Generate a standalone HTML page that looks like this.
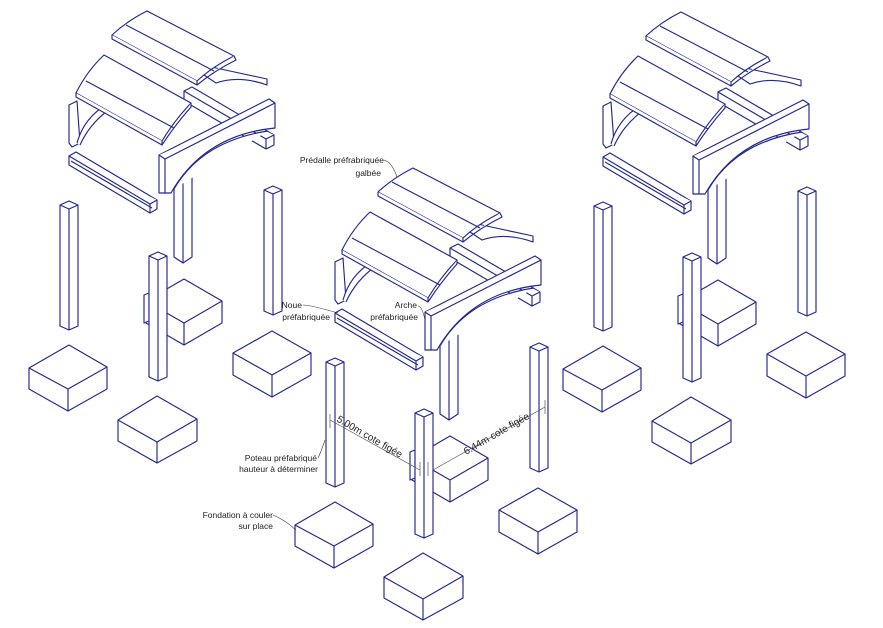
<!DOCTYPE html>
<html><head><meta charset="utf-8"><style>
html,body{margin:0;padding:0;background:#fff;width:883px;height:628px;overflow:hidden}
svg{display:block}
text{font-family:"Liberation Sans",sans-serif;font-size:8.5px;fill:#222}
</style></head><body>
<svg width="883" height="628" viewBox="0 0 883 628" xmlns="http://www.w3.org/2000/svg">
<defs>
<g id="asm" fill="#fff" stroke="#23278f" stroke-width="1.15" stroke-linejoin="round">
  <path d="M412,458 L450,436 L488,458 L488,480 L450,502 L412,480 Z"/>
  <path d="M412,458 L450,480 L488,458 M450,480 L450,502"/>
  <path d="M440,330 L458,330 L458,414 L449,420 L440,414 Z"/>
  <path d="M449,330 L449,420"/>
  <path d="M335,262 L343,258 L346,300 L338,304 L335,300 Z"/>
  <path d="M343,300 Q350,275 372,262 L376,266 Q356,280 346,302"/>
  <path d="M470,222 L482,225 L533,236 L533,242 Q505,232 482,240 L470,232 Z"/>
  <path d="M450,248 L458,244 L540,292 L540,302 L532,306 L450,258 Z"/>
  <path d="M450,248 L532,296 L540,292 M532,296 L532,306"/>
  <path d="M342,250 Q353,228 370,212 L457,260 Q440,278 428,298 Z"/>
  <path d="M342,250 L342,254 L428,302 L428,298 M428,302 Q441,282 457,264 L457,260"/>
  <path d="M352,238 L440,285"/>
  <path d="M378,192 Q393,178 413,168 L500,213 Q478,224 463,238 Z"/>
  <path d="M378,192 L378,196 L463,242 L463,238 M463,242 Q480,228 502,217 L500,213"/>
  <path d="M392,182 L480,228"/>
  <path d="M425,312 L535,256 L541,260 L541,285 Q470,292 437,350 L425,350 Z"/>
  <path d="M425,312 L431,316 L541,260 M431,316 L431,350"/>
  <path d="M534,288 Q468,298 440,346"/>
  <path d="M335,313 L342,309 L423,357 L423,366 L416,370 L335,322 Z"/>
  <path d="M335,313 L416,361 L423,357 M416,361 L416,370 M337,318 L418,365"/>
  <path d="M530,347 L539,343 L548,347 L548,468 L539,472 L530,468 Z"/>
  <path d="M530,347 L539,351 L548,347 M539,351 L539,472"/>
  <path d="M326,362 L335,358 L344,362 L344,483 L335,487 L326,483 Z"/>
  <path d="M326,362 L335,366 L344,362 M335,366 L335,487"/>
  <path d="M499,510 L538,488 L577,510 L577,532 L538,554 L499,532 Z"/>
  <path d="M499,510 L538,532 L577,510 M538,532 L538,554"/>
  <path d="M295,525 L335,502 L373,524 L373,546 L334,568 L295,546 Z"/>
  <path d="M295,525 L334,546 L373,524 M334,546 L334,568"/>
  <path d="M410,452 L415,450 L415,478 L410,480 Z"/>
  <path d="M415,413 L424,409 L433,413 L433,534 L424,538 L415,534 Z"/>
  <path d="M415,413 L424,417 L433,413 M424,417 L424,538"/>
  <path d="M384,577 L423,553 L463,576 L463,598 L423,620 L384,598 Z"/>
  <path d="M384,577 L423,599 L463,576 M423,599 L423,620"/>
</g>
</defs>
<use href="#asm" transform="translate(-266,-157)"/>
<use href="#asm" transform="translate(268,-156)"/>
<use href="#asm"/>
<g stroke="#555" stroke-width="0.7" fill="none">
  <path d="M330,420 L420,470 M433,470 L545,407"/>
  <path d="M330,414 L330,428 M420,462 L420,476 M428,462 L428,476 M545,400 L545,414"/>
</g>
<g stroke="#333" stroke-width="0.6" fill="none">
  <path d="M384,160 Q392,162 397,177"/>
  <path d="M303,305 Q310,305 338,313"/>
  <path d="M418,306 Q422,306 425,320"/>
  <path d="M318,458 Q321,452 325,440"/>
  <path d="M273,515 Q285,520 296,530"/>
</g>
<text x="384" y="163" text-anchor="end">Prédalle préfrabriquée</text>
<text x="381" y="176" text-anchor="end">galbée</text>
<text x="302" y="308" text-anchor="end">Noue</text>
<text x="330" y="320" text-anchor="end">préfabriquée</text>
<text x="417" y="308" text-anchor="end">Arche</text>
<text x="418" y="320" text-anchor="end">préfabriquée</text>
<text x="317" y="461" text-anchor="end">Poteau préfabriqué</text>
<text x="318" y="472" text-anchor="end">hauteur à déterminer</text>
<text x="273" y="518" text-anchor="end">Fondation à couler</text>
<text x="273" y="529" text-anchor="end">sur place</text>
<text transform="translate(336,421) rotate(30)" style="font-size:10px">5.00m cote  figée</text>
<text transform="translate(466,455) rotate(-30)" style="font-size:10px">6.44m cote figée</text>
</svg>
</body></html>
